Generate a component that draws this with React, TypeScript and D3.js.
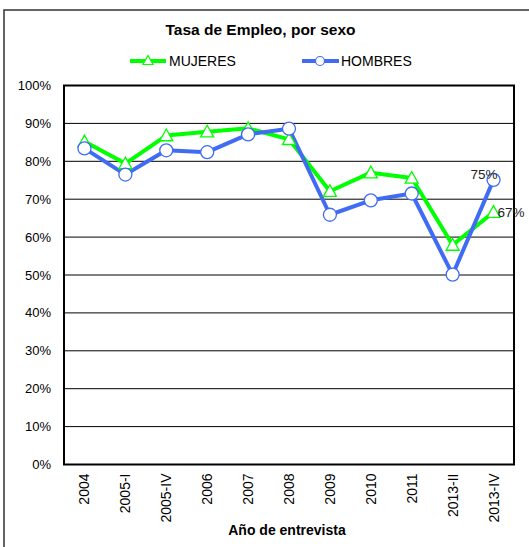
import React from "react";
import * as d3 from "d3";

const categories = ["2004", "2005-I", "2005-IV", "2006", "2007", "2008", "2009", "2010", "2011", "2013-II", "2013-IV"];
const mujeres = [85.2, 79.4, 86.8, 87.8, 88.7, 85.8, 72.1, 77.0, 75.6, 57.9, 66.6];
const hombres = [83.4, 76.5, 82.9, 82.4, 87.1, 88.6, 65.9, 69.7, 71.5, 50.1, 75.1];
const yTicks = [0, 10, 20, 30, 40, 50, 60, 70, 80, 90, 100];

const W = 529;
const H = 547;
const left = 64;
const right = 514;
const top = 85.5;
const bottom = 464.5;
const GREEN = "#00ff00";
const BLUE = "#3f6cf3";
const FONT = "Liberation Sans, Arial, sans-serif";

export default function App() {
  const x = d3.scaleBand<string>().domain(categories).range([left, right]);
  const y = d3.scaleLinear().domain([0, 100]).range([bottom, top]);
  const cx = (c: string) => (x(c) as number) + x.bandwidth() / 2;
  const line = d3
    .line<number>()
    .x((_, i) => cx(categories[i]))
    .y((d) => y(d));
  const tri = (px: number, py: number, s = 6) =>
    `M${px},${py - s} L${px + s},${py + s * 0.8} L${px - s},${py + s * 0.8} Z`;
  const last = categories.length - 1;
  return (
    <svg
      width={W}
      height={H}
      style={{ position: "absolute", left: 0, top: 0, fontFamily: FONT }}
    >
      <rect x={0} y={0} width={W} height={H} fill="white" />
      <rect x={4} y={10} width={W + 10} height={H + 10} fill="white" stroke="#333" strokeWidth={1.5} />
      <text x={260.5} y={34.5} textAnchor="middle" fontWeight="bold" fontSize={15.5}>
        Tasa de Empleo, por sexo
      </text>
      {/* legend */}
      <line x1={130} x2={166} y1={61} y2={61} stroke={GREEN} strokeWidth={4} />
      <path d={tri(148, 60.5, 5)} fill="white" stroke={GREEN} strokeWidth={1.2} />
      <text x={169} y={66} fontSize={14}>MUJERES</text>
      <line x1={302} x2={339} y1={61} y2={61} stroke={BLUE} strokeWidth={4} />
      <circle cx={320} cy={61} r={4.5} fill="white" stroke={BLUE} strokeWidth={1.2} />
      <text x={341} y={66} fontSize={14}>HOMBRES</text>
      {/* gridlines */}
      {yTicks.map((t) => (
        <g key={t}>
          <line x1={left} x2={right} y1={y(t)} y2={y(t)} stroke="#000" strokeWidth={1} />
          <text x={51} y={y(t) + 4.5} textAnchor="end" fontSize={13}>
            {t}%
          </text>
        </g>
      ))}
      <rect x={left} y={top} width={right - left} height={bottom - top} fill="none" stroke="#000" strokeWidth={2} />
      {/* x labels */}
      {categories.map((c) => (
        <text
          key={c}
          transform={`translate(${cx(c) + 5},${bottom + 9}) rotate(-90)`}
          textAnchor="end"
          fontSize={14}
        >
          {c}
        </text>
      ))}
      <text x={287} y={535} textAnchor="middle" fontWeight="bold" fontSize={14}>
        Año de entrevista
      </text>
      {/* series */}
      <path d={line(mujeres) || ""} fill="none" stroke={GREEN} strokeWidth={4} strokeLinejoin="round" />
      <path d={line(hombres) || ""} fill="none" stroke={BLUE} strokeWidth={4} strokeLinejoin="round" />
      {mujeres.map((v, i) => (
        <path key={"m" + i} d={tri(cx(categories[i]), y(v), 6.5)} fill="white" stroke={GREEN} strokeWidth={1.3} />
      ))}
      {hombres.map((v, i) => (
        <circle key={"h" + i} cx={cx(categories[i])} cy={y(v)} r={6.5} fill="white" stroke={BLUE} strokeWidth={1.3} />
      ))}
      <text x={cx(categories[last]) + 4} y={y(hombres[last]) - 0.5} textAnchor="end" fontSize={13.5} fill="#222">
        {Math.round(hombres[last])}%
      </text>
      <text x={cx(categories[last]) + 4} y={y(mujeres[last]) + 4.5} fontSize={13.5} fill="#222">
        {Math.round(mujeres[last])}%
      </text>
    </svg>
  );
}
